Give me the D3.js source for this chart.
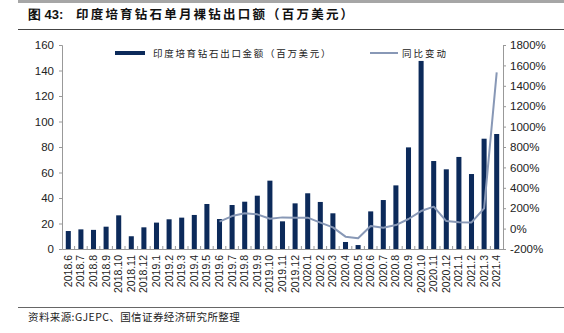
<!DOCTYPE html>
<html><head><meta charset="utf-8">
<script src="https://cdn.jsdelivr.net/npm/d3@7"></script>
<style>body{margin:0;background:#fff}svg{display:block}</style>
</head><body><svg id="c" width="564" height="333"></svg>
<script>
const categories = ["2018.6","2018.7","2018.8","2018.9","2018.10","2018.11","2018.12","2019.1","2019.2","2019.3","2019.4","2019.5","2019.6","2019.7","2019.8","2019.9","2019.10","2019.11","2019.12","2020.1","2020.2","2020.3","2020.4","2020.5","2020.6","2020.7","2020.8","2020.9","2020.10","2020.11","2020.12","2021.1","2021.2","2021.3","2021.4"];
const exportValue = [14.1,15.4,15,17.5,26.4,10,17,20.7,23.3,24.6,26.7,35.3,23.5,34.5,37.1,41.8,53.6,21.7,35.8,43.7,36.9,28,5.5,3.1,29.5,38.4,49.9,79.7,147.5,69,62.5,72.2,58.8,86.5,90.2];
const yoyChange = [null,null,null,null,null,null,null,null,null,null,null,null,68,123,150,140,97,110,107,107,58,12,-79,-95,25,9,35,94,172,215,74,62,61,199,1532];
const leftTicks = [0,20,40,60,80,100,120,140,160];
const rightTicks = [-200,0,200,400,600,800,1000,1200,1400,1600,1800];
const seriesNames = ["印度培育钻石出口金额（百万美元）","同比变动"];
const titleNo = "图 43:";
const titleText = "印度培育钻石单月裸钻出口额（百万美元）";
const sourceText = "资料来源:GJEPC、国信证券经济研究所整理";

const svg = d3.select("#c");
const W = 564;
const L = 62, R = 503, T = 45, B = 249;
const barColor = "#0c2a5a", lineColor = "#8898b6", axisColor = "#999";
const sans = "'Liberation Sans', Arial, sans-serif";
const cjk = "'Noto Sans CJK SC', sans-serif";

// header
svg.append("rect").attr("x",18).attr("y",0).attr("width",W-18).attr("height",3).attr("fill","#a6a6a6");
svg.append("text").attr("x",28).attr("y",19).attr("font-family",sans).attr("font-size",13).attr("font-weight","bold").attr("fill","#111").text(titleNo);
svg.append("text").attr("x",76).attr("y",19).attr("font-family",cjk).attr("font-size",12.5).attr("font-weight","bold").attr("letter-spacing",2.2).attr("fill","#111").text(titleText);
svg.append("line").attr("x1",18).attr("x2",W).attr("y1",29.5).attr("y2",29.5).attr("stroke","#444").attr("stroke-width",1);
// footer
svg.append("line").attr("x1",18).attr("x2",W).attr("y1",307.5).attr("y2",307.5).attr("stroke","#666").attr("stroke-width",1);
svg.append("text").attr("x",28).attr("y",321).attr("font-family",cjk).attr("font-size",10.5).attr("letter-spacing",0.4).attr("fill","#222").text(sourceText);

const x = d3.scaleBand().domain(categories).range([L,R]).paddingInner(0.6).paddingOuter(0.3);
const yL = d3.scaleLinear().domain([0,160]).range([B,T]);
const yR = d3.scaleLinear().domain([-200,1800]).range([B,T]);

// left axis
const gL = svg.append("g").attr("transform",`translate(${L},0)`)
  .call(d3.axisLeft(yL).tickValues(leftTicks).tickSize(3).tickPadding(5));
// right axis
const gR = svg.append("g").attr("transform",`translate(${R},0)`)
  .call(d3.axisRight(yR).tickValues(rightTicks).tickSize(3).tickPadding(4).tickFormat(d=>d+"%"));
[gL,gR].forEach(g=>{
  g.selectAll("path,line").attr("stroke",axisColor);
  g.selectAll("text").attr("font-family",sans).attr("font-size",11.5).attr("fill","#222");
});

// bars
svg.append("g").selectAll("rect").data(exportValue).join("rect")
  .attr("x",(d,i)=>x(categories[i])).attr("width",x.bandwidth())
  .attr("y",d=>yL(d)).attr("height",d=>yL(0)-yL(d)).attr("fill",barColor);

// x axis
const gX = svg.append("g").attr("transform",`translate(0,${B})`)
  .call(d3.axisBottom(x).tickSize(0).tickPadding(0));
gX.select("path").attr("stroke",axisColor);
gX.selectAll("text").attr("font-family",sans).attr("font-size",10.5).attr("fill","#222")
  .attr("text-anchor","end").attr("dy",null).attr("y",0)
  .attr("transform","translate(3.5,6) rotate(-90)");
const step = x.step();
svg.append("g").selectAll("line").data(categories.slice(1)).join("line")
  .attr("x1",d=>x(d)+x.bandwidth()/2-step/2).attr("x2",d=>x(d)+x.bandwidth()/2-step/2)
  .attr("y1",B).attr("y2",B-3).attr("stroke",axisColor);

// line
const line = d3.line().defined(d=>d!=null)
  .x((d,i)=>x(categories[i])+x.bandwidth()/2).y(d=>yR(d));
svg.append("path").datum(yoyChange).attr("d",line).attr("fill","none")
  .attr("stroke",lineColor).attr("stroke-width",2).attr("stroke-linejoin","round");

// legend
const lg = svg.append("g");
lg.append("rect").attr("x",115).attr("y",51).attr("width",30).attr("height",4).attr("fill",barColor);
lg.append("text").attr("x",153).attr("y",57).attr("font-family",cjk).attr("font-size",9.5).attr("letter-spacing",1.7).attr("fill","#222").text(seriesNames[0]);
lg.append("line").attr("x1",370).attr("x2",398).attr("y1",53).attr("y2",53).attr("stroke",lineColor).attr("stroke-width",2);
lg.append("text").attr("x",402).attr("y",57).attr("font-family",cjk).attr("font-size",9.5).attr("letter-spacing",2).attr("fill","#222").text(seriesNames[1]);
</script></body></html>
